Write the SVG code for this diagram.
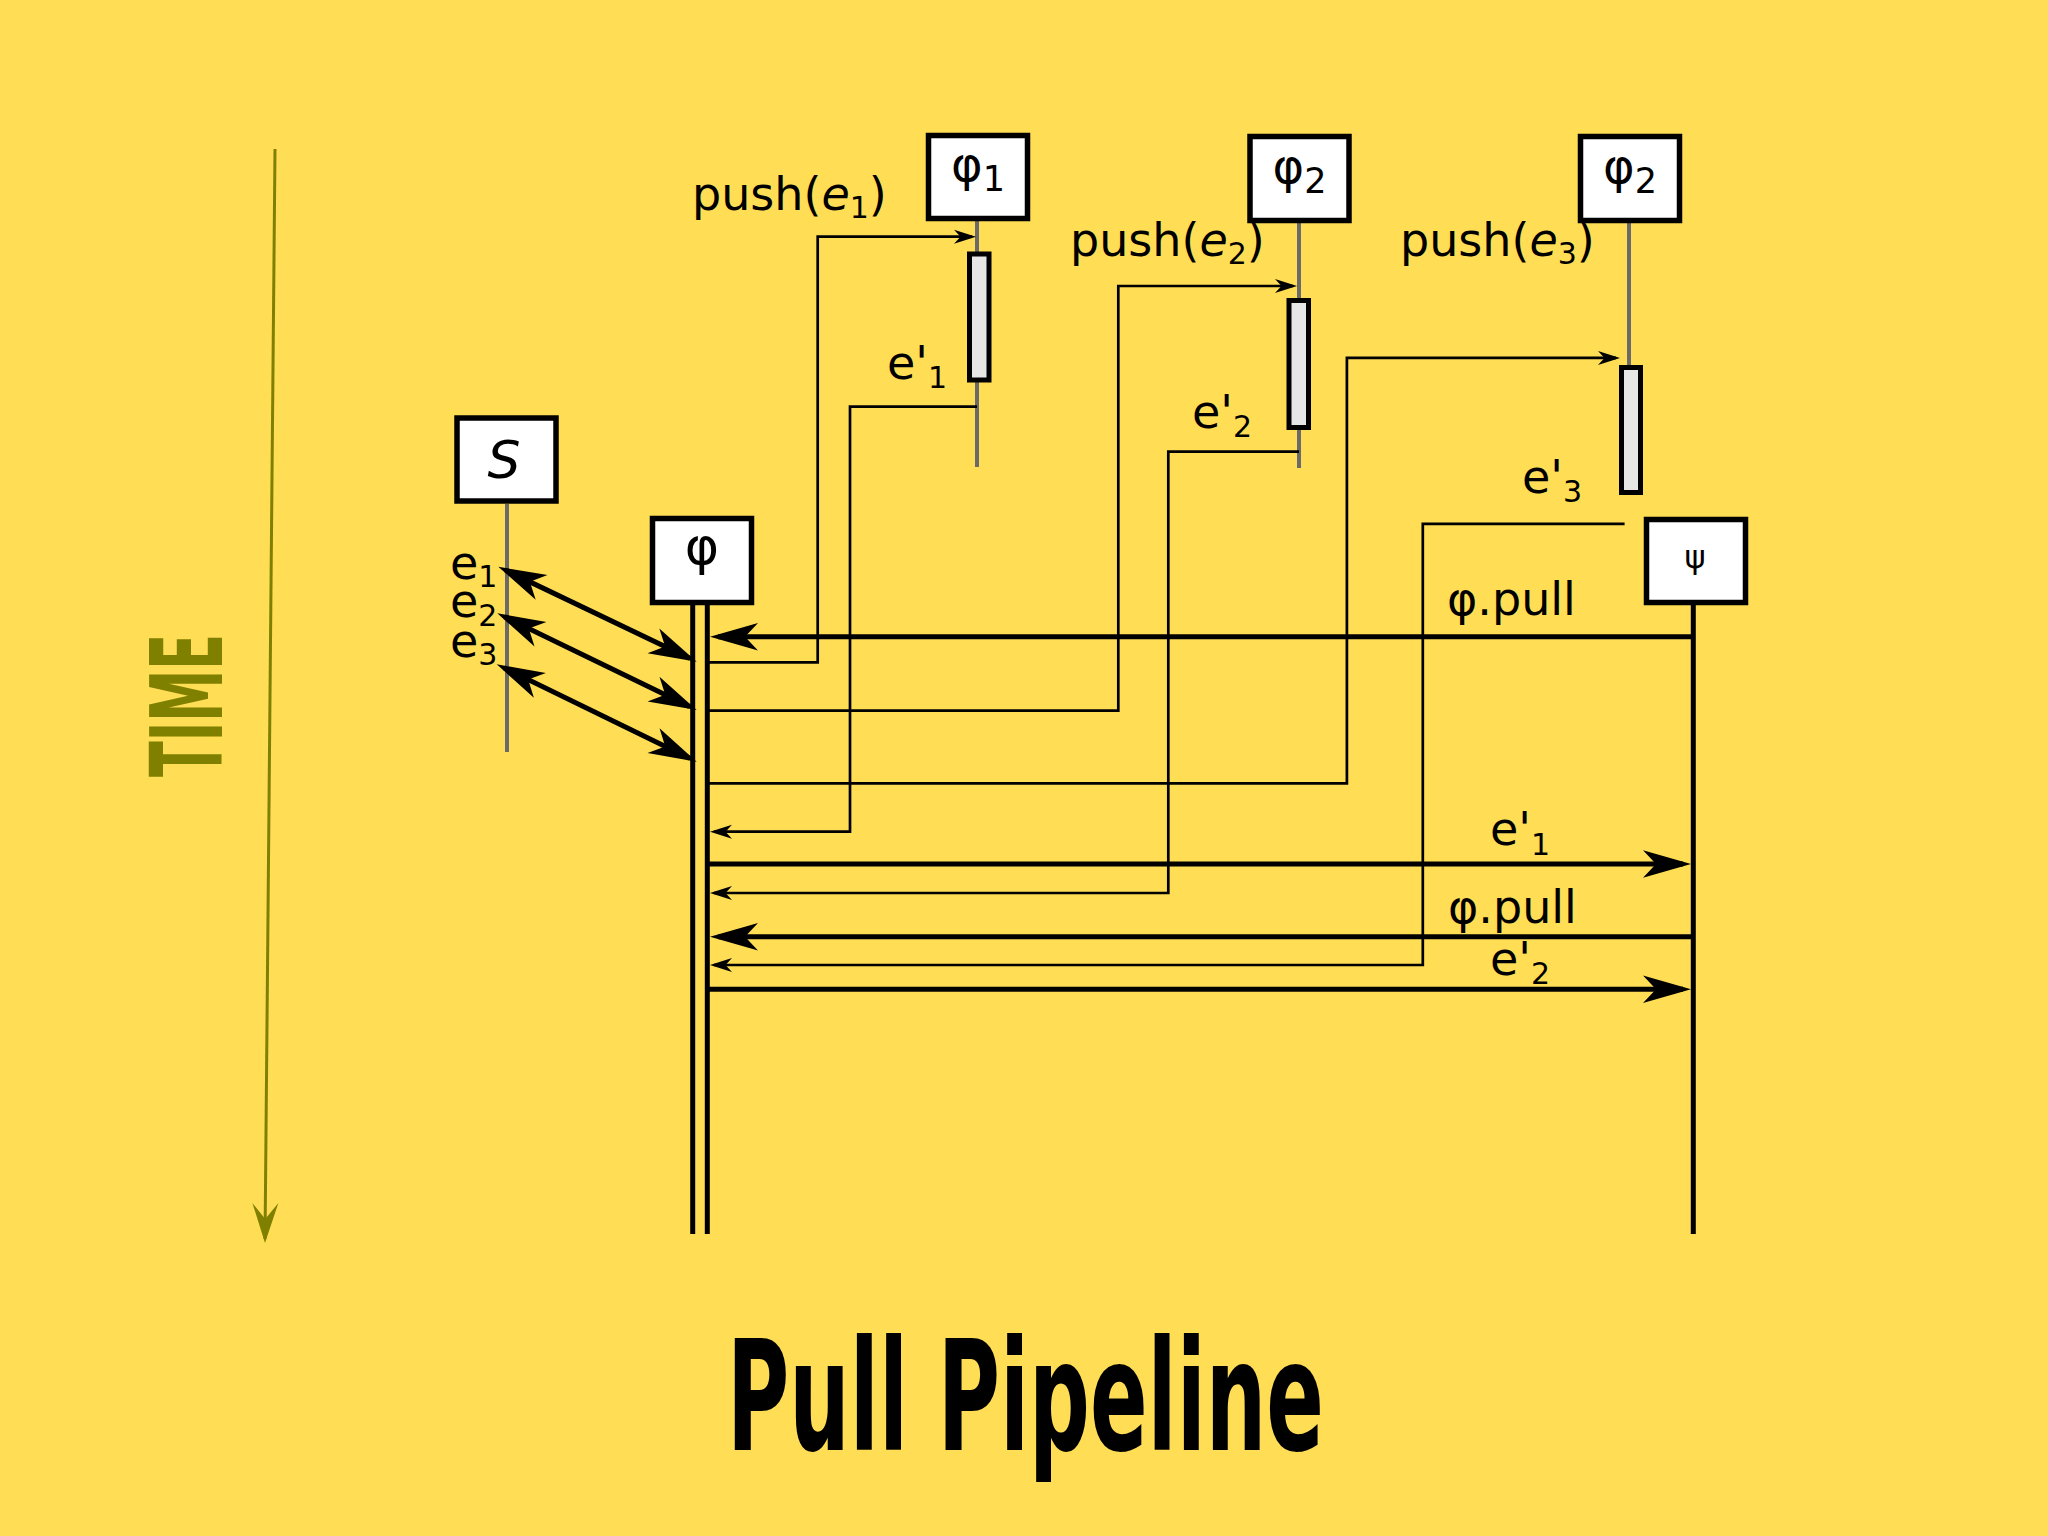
<svg xmlns="http://www.w3.org/2000/svg" width="2048" height="1536" viewBox="0 0 2048 1536">
<style>
.box{fill:#fff;stroke:#000;stroke-width:5.5}
.act{fill:#e6e6e6;stroke:#000;stroke-width:5}
.life{stroke:#6a6a6a;stroke-width:4;fill:none}
.bl{stroke:#000;stroke-width:5;fill:none}
.thin{stroke:#000;stroke-width:2.7;fill:none;marker-end:url(#sm)}
.thick{stroke:#000;stroke-width:5;fill:none;marker-end:url(#big)}
.dbl{stroke:#000;stroke-width:5;fill:none;marker-end:url(#big);marker-start:url(#big)}
text{font-family:"DejaVu Sans","Noto Sans",sans-serif;fill:#000}
.lbl{font-size:46px}
.sub{font-size:30px}
.hd{font-size:48px;text-anchor:middle}
.hsub{font-size:35px}
.disp{font-family:"DejaVu Sans Condensed","DejaVu Sans",sans-serif;font-weight:bold}
text.olive{fill:#808000}
</style>
<defs>
<marker id="big" markerUnits="userSpaceOnUse" orient="auto-start-reverse" overflow="visible" markerWidth="1" markerHeight="1" refX="0" refY="0">
<path d="M8,0 L-40,-13.7 L-27,0 L-40,13.7 Z" fill="#000"/>
</marker>
<marker id="sm" markerUnits="userSpaceOnUse" orient="auto" overflow="visible" markerWidth="1" markerHeight="1" refX="0" refY="0">
<path d="M4,0 L-18,-7 L-11.5,0 L-18,7 Z" fill="#000"/>
</marker>
<marker id="ol" markerUnits="userSpaceOnUse" orient="auto" overflow="visible" markerWidth="1" markerHeight="1" refX="0" refY="0">
<path d="M4,0 L-36,-13 L-20,0 L-36,13 Z" fill="#808000"/>
</marker>
</defs>
<rect width="2048" height="1536" fill="#ffdd55"/>

<g id="time-axis">
<line x1="275" y1="149" x2="265.04" y2="1239" stroke="#808000" stroke-width="3" marker-end="url(#ol)"/>
<text class="disp olive" transform="translate(222,777) rotate(-90)" font-size="99" textLength="143" lengthAdjust="spacingAndGlyphs">TIME</text>
</g>

<g id="node-S">
<line class="life" x1="507" y1="504" x2="507" y2="752"/>
<rect class="box" x="457" y="418" width="99" height="83"/>
<text x="504" y="478" font-size="52" font-style="italic" text-anchor="middle">S</text>
<text class="lbl" x="450" y="579" font-size="44">e<tspan class="sub" dy="8">1</tspan></text>
<text class="lbl" x="450" y="616.5" font-size="44">e<tspan class="sub" dy="9">2</tspan></text>
<text class="lbl" x="450" y="656.5" font-size="44">e<tspan class="sub" dy="8.5">3</tspan></text>
</g>

<g id="node-phi">
<line class="bl" x1="692.7" y1="605" x2="692.7" y2="1234"/>
<line class="bl" x1="707.3" y1="605" x2="707.3" y2="1234"/>
<rect class="box" x="652.5" y="518.5" width="99" height="84"/>
<text x="702" y="564" font-size="52" text-anchor="middle">φ</text>
</g>

<g id="node-phi1">
<line class="life" x1="977" y1="221" x2="977" y2="467"/>
<rect class="box" x="928.5" y="135.5" width="99" height="83"/>
<text class="hd" x="978" y="181">φ<tspan class="hsub" dy="9.5">1</tspan></text>
<rect class="act" x="969.5" y="254" width="19.5" height="126"/>
</g>

<g id="node-phi2a">
<line class="life" x1="1299" y1="223" x2="1299" y2="468"/>
<rect class="box" x="1250" y="136.5" width="99" height="84"/>
<text class="hd" x="1299.5" y="183">φ<tspan class="hsub" dy="10">2</tspan></text>
<rect class="act" x="1289" y="300.5" width="19.5" height="127"/>
</g>

<g id="node-phi2b">
<line class="life" x1="1629" y1="223" x2="1629" y2="366"/>
<rect class="box" x="1580.5" y="136.5" width="99" height="84"/>
<text class="hd" x="1630" y="183">φ<tspan class="hsub" dy="10">2</tspan></text>
<rect class="act" x="1621.5" y="367.5" width="19" height="125"/>
</g>

<g id="node-psi">
<line class="bl" x1="1693.3" y1="605" x2="1693.3" y2="1234"/>
<rect class="box" x="1646.5" y="519.5" width="99" height="83"/>
<text x="1695" y="568" font-size="32" text-anchor="middle">ψ</text>
</g>

<g id="connectors">
<line class="dbl" x1="505.5" y1="570.2" x2="689.5" y2="658.2"/>
<line class="dbl" x1="504.5" y1="616.8" x2="689.5" y2="706.5"/>
<line class="dbl" x1="503.9" y1="667.8" x2="689.5" y2="758.2"/>

<path class="thin" d="M707,662.3 H817.7 V236.7 H972"/>
<path class="thin" d="M977,406.7 H850 V831.7 H714"/>
<path class="thin" d="M707,710.7 H1118.3 V286 H1293"/>
<path class="thin" d="M1299,451.6 H1168.3 V893 H714"/>
<path class="thin" d="M707,783.3 H1346.9 V357.9 H1616"/>
<path class="thin" d="M1624.6,523.9 H1422.8 V965 H714"/>

<path class="thick" d="M1693,636.7 H718"/>
<path class="thick" d="M707,864 H1683"/>
<path class="thick" d="M1693,936.7 H718"/>
<path class="thick" d="M707,989.3 H1683"/>

<text class="lbl" x="692" y="210">push(<tspan font-style="italic">e</tspan><tspan class="sub" dy="8">1</tspan><tspan dy="-8">)</tspan></text>
<text class="lbl" x="1070" y="256">push(<tspan font-style="italic">e</tspan><tspan class="sub" dy="8">2</tspan><tspan dy="-8">)</tspan></text>
<text class="lbl" x="1400" y="256">push(<tspan font-style="italic">e</tspan><tspan class="sub" dy="8">3</tspan><tspan dy="-8">)</tspan></text>
<text class="lbl" x="887" y="379">e'<tspan class="sub" dy="9">1</tspan></text>
<text class="lbl" x="1192" y="428">e'<tspan class="sub" dy="9">2</tspan></text>
<text class="lbl" x="1522" y="493">e'<tspan class="sub" dy="9">3</tspan></text>
<text class="lbl" x="1447" y="615">φ.pull</text>
<text class="lbl" x="1490" y="845">e'<tspan class="sub" dy="10">1</tspan></text>
<text class="lbl" x="1448" y="922.7">φ.pull</text>
<text class="lbl" x="1490" y="975">e'<tspan class="sub" dy="9">2</tspan></text>
</g>

<text class="disp" x="727" y="1450" font-size="154" textLength="597" lengthAdjust="spacingAndGlyphs">Pull Pipeline</text>
</svg>
